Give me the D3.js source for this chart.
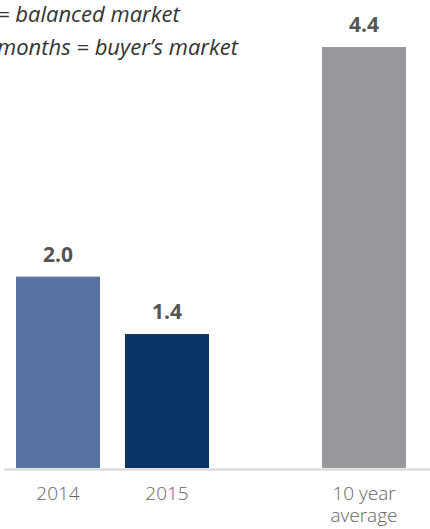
<!DOCTYPE html>
<meta charset="UTF-8">
<style>
    body { margin: 0; background: #fff; }
    svg { display: block; }
    .note { font: italic 22px "Open Sans", sans-serif; fill: #333; }
    .value { font: bold 21px "Open Sans", sans-serif; fill: #555; }
    .cat { font: 300 19px "Open Sans", sans-serif; fill: #666; }
    .axis { stroke: #d4d4d4; stroke-width: 2px; }
</style>
<body>
<script src="https://d3js.org/d3.v7.min.js"></script>
<script>

// months of inventory
var categories = ["2014", "2015", "10 year average"];
var values = [2.0, 1.4, 4.4];
var colors = ["#5872a3", "#0b3467", "#98999d"];
var labelLines = [["2014"], ["2015"], ["10 year", "average"]];
// the notes are cut by the frame on the left in the source
var notes = ["= balanced market", "months = buyer\u2019s market"];

var width = 430, height = 529;
var baseline = 468, barWidth = 84;

var svg = d3.select("body").append("svg")
    .attr("width", width)
    .attr("height", height);

// bars are not evenly spaced: the average sits apart
var x = d3.scaleOrdinal()
    .domain(categories)
    .range([16, 125, 322]);

var y = d3.scaleLinear()
    .domain([0, 4.4])
    .range([baseline, 47]);

svg.selectAll("text.note")
    .data(notes)
  .enter().append("text")
    .attr("class", "note")
    .attr("x", -3)
    .attr("y", function(d, i) { return 22 + i * 33; })
    .text(function(d) { return d; });

// bars
svg.selectAll("rect.bar")
    .data(values)
  .enter().append("rect")
    .attr("class", "bar")
    .attr("x", function(d, i) { return x(categories[i]); })
    .attr("y", function(d) { return y(d); })
    .attr("width", barWidth)
    .attr("height", function(d) { return baseline - y(d); })
    .style("fill", function(d, i) { return colors[i]; });

// value labels
svg.selectAll("text.value")
    .data(values)
  .enter().append("text")
    .attr("class", "value")
    .attr("text-anchor", "middle")
    .attr("x", function(d, i) { return x(categories[i]) + barWidth / 2; })
    .attr("y", function(d) { return y(d) - 15; })
    .text(function(d) { return d3.format(".1f")(d); });

// baseline
svg.append("line")
    .attr("class", "axis")
    .attr("x1", 4).attr("x2", width)
    .attr("y1", baseline + 1.5).attr("y2", baseline + 1.5);

// category labels
var cat = svg.selectAll("text.cat")
    .data(categories)
  .enter().append("text")
    .attr("class", "cat")
    .attr("text-anchor", "middle")
    .attr("x", function(d) { return x(d) + barWidth / 2; })
    .attr("y", 500);

cat.selectAll("tspan")
    .data(function(d, i) { return labelLines[i]; })
  .enter().append("tspan")
    .attr("x", function() { return this.parentNode.getAttribute("x"); })
    .attr("dy", function(d, i) { return i == 0 ? 0 : 22; })
    .text(function(d) { return d; });

</script>
</body>
